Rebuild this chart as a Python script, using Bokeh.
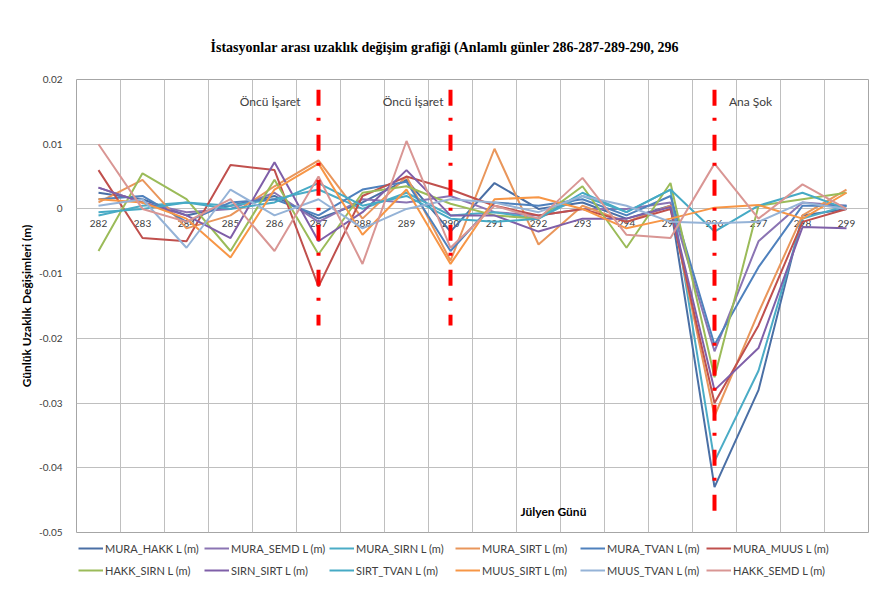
import numpy as np
from bokeh.plotting import figure
from bokeh.models import FixedTicker, Legend, LegendItem, Label, ColumnDataSource, Range1d
from bokeh.layouts import column
from bokeh.core.properties import value
from bokeh.embed import file_html
from bokeh.resources import INLINE

days = [282, 283, 284, 285, 286, 287, 288, 289, 290, 291, 292, 293, 294, 295, 296, 297, 298, 299]
day_labels = [str(d) for d in days]

series_names = ["MURA_HAKK L (m)", "MURA_SEMD L (m)", "MURA_SIRN L (m)", "MURA_SIRT L (m)",
                "MURA_TVAN L (m)", "MURA_MUUS L (m)", "HAKK_SIRN L (m)", "SIRN_SIRT L (m)",
                "SIRT_TVAN L (m)", "MUUS_SIRT L (m)", "MUUS_TVAN L (m)", "HAKK_SEMD L (m)"]

mura_hakk = [0.0025, 0.0015, -0.001, 0.0005, 0.002, -0.0015, 0.001, 0.0045, -0.0035, 0.004, 0.0, 0.001, -0.0015, 0.0005, -0.043, -0.028, -0.001, 0.0]
mura_semd = [0.0033, 0.001, -0.0005, 0.0, 0.0025, -0.002, 0.0015, 0.001, 0.002, -0.0005, -0.001, 0.0, 0.0, 0.001, -0.022, -0.005, 0.001, 0.0005]
mura_sirn = [-0.001, 0.0005, 0.001, 0.0005, 0.0015, 0.003, 0.0, 0.0025, -0.001, -0.0005, -0.0015, 0.002, -0.0005, 0.003, -0.039, -0.025, -0.0015, 0.0005]
mura_sirt = [0.001, 0.0045, -0.003, -0.001, 0.0035, 0.0075, -0.0015, 0.005, -0.008, 0.0093, -0.0055, 0.0005, -0.002, 0.0005, -0.032, -0.016, -0.001, 0.003]
mura_tvan = [0.0015, 0.002, -0.002, 0.001, 0.0015, -0.001, 0.003, 0.0042, -0.0065, 0.001, 0.0005, 0.0015, -0.001, 0.002, -0.021, -0.009, 0.0005, 0.0005]
mura_muus = [0.006, -0.0045, -0.005, 0.0068, 0.006, -0.012, 0.002, 0.005, 0.003, 0.0005, -0.001, 0.0, -0.002, 0.0, -0.030, -0.018, -0.002, 0.0]
hakk_sirn = [-0.0065, 0.0055, 0.0015, -0.0065, 0.0045, -0.007, 0.0025, 0.0035, 0.0008, -0.001, -0.0015, 0.0035, -0.006, 0.004, -0.026, 0.0005, 0.0015, 0.0025]
sirn_sirt = [0.0033, 0.001, -0.001, -0.0045, 0.0072, -0.005, -0.0005, 0.006, -0.001, -0.001, -0.0035, -0.0015, -0.0015, 0.0003, -0.028, -0.0215, -0.0028, -0.003]
sirt_tvan = [-0.0005, 0.0, 0.001, 0.0, 0.001, 0.004, 0.0005, 0.002, -0.0015, -0.002, -0.0015, 0.0025, -0.0005, 0.003, -0.0035, 0.0005, 0.0025, 0.0]
muus_sirt = [0.0015, 0.001, -0.0015, -0.0075, 0.003, 0.007, -0.004, 0.003, -0.0085, 0.0015, 0.0018, 0.0, -0.003, -0.0015, 0.0002, 0.0006, -0.0015, 0.0025]
muus_tvan = [0.0005, 0.0015, -0.006, 0.003, -0.001, 0.0015, -0.003, 0.0, 0.0015, 0.001, -0.0005, 0.002, 0.0005, -0.002, -0.0022, -0.002, 0.001, 0.0]
hakk_semd = [0.010, 0.0, -0.002, 0.0015, -0.0065, 0.005, -0.0085, 0.0105, -0.006, 0.0005, -0.0015, 0.0048, -0.004, -0.0045, 0.007, -0.0015, 0.0038, 0.0]

series_values = [mura_hakk, mura_semd, mura_sirn, mura_sirt, mura_tvan, mura_muus,
                 hakk_sirn, sirn_sirt, sirt_tvan, muus_sirt, muus_tvan, hakk_semd]
colors = ["#4A6FA5", "#8B74B3", "#4BACC6", "#E9965B", "#4F81BD", "#C0504D",
          "#9BBB59", "#7F5FA8", "#46AAC5", "#F79646", "#95B3D7", "#D99694"]

y_ticks = [-0.05, -0.04, -0.03, -0.02, -0.01, 0.0, 0.01, 0.02]
y_tick_labels = ["-0.05", "-0.04", "-0.03", "-0.02", "-0.01", "0", "0.01", "0.02"]

event_days = [287, 290, 296]
event_top = [0.0184, 0.0184, 0.0184]
event_bottom = [-0.018, -0.018, -0.0484]
event_texts = ["Öncü İşaret", "Öncü İşaret", "Ana Şok"]
event_text_x = [285.9, 289.15, 296.82]
event_text_y = [0.0166, 0.0166, 0.0166]

FONT = "Lato"
TXT = "#404040"

p = figure(width=883, height=541, x_range=(281.5, 299.5), y_range=(-0.05, 0.02),
           output_backend="svg", toolbar_location=None,
           min_border_left=76, min_border_right=15, min_border_top=79, min_border_bottom=9)

p.title.text = "İstasyonlar arası uzaklık değişim grafiği (Anlamlı günler 286-287-289-290, 296"
p.title.text_font = "Liberation Serif"
p.title.text_font_style = "bold"
p.title.text_font_size = "14px"
p.title.align = "left"
p.title.offset = 134
p.title.text_color = "#000000"
p.title.standoff = 50

p.outline_line_color = "#A6A6A6"
p.xaxis.visible = False
p.xgrid.ticker = FixedTicker(ticks=[d + 0.5 for d in days[:-1]])
p.xgrid.grid_line_color = "#BFBFBF"
p.ygrid.grid_line_color = "#BFBFBF"

yax = p.yaxis[0]
yax.ticker = FixedTicker(ticks=y_ticks)
yax.major_label_overrides = {t: l for t, l in zip(y_ticks, y_tick_labels)}
yax.major_tick_line_color = None
yax.minor_tick_line_color = None
yax.axis_line_color = None
yax.major_label_text_font = FONT
yax.major_label_text_font_size = "10px"
yax.major_label_text_color = TXT
yax.major_label_standoff = 8
yax.axis_label = "Günlük Uzaklık Değişimleri (m)"
yax.axis_label_text_font = FONT
yax.axis_label_text_font_style = "bold"
yax.axis_label_text_font_size = "12px"
yax.axis_label_text_color = "#000000"
yax.axis_label_standoff = 2

# category labels on the zero line
lab_src = ColumnDataSource(dict(x=days, y=[0.0] * len(days), t=day_labels))
p.text(x="x", y="y", text="t", source=lab_src, text_align="center", text_baseline="top",
       y_offset=11, text_font=value(FONT), text_font_size="10px", text_color=TXT)

for name, vals, c in zip(series_names, series_values, colors):
    p.line(days, vals, line_color=c, line_width=2)

p.segment(x0=event_days, y0=event_top, x1=event_days, y1=event_bottom,
          line_color="#FF0000", line_width=4, line_dash="16 12 3 14")

ev_src = ColumnDataSource(dict(x=event_text_x, y=event_text_y, t=event_texts))
p.text(x="x", y="y", text="t", source=ev_src, text_align="center", text_baseline="middle",
       text_font=value(FONT), text_font_size="12px", text_color=TXT)

p.add_layout(Label(x=292.34, y=-0.0468, text="Jülyen Günü", text_font=FONT,
                   text_font_style="bold", text_font_size="12px", text_color="#000000",
                   text_align="center", text_baseline="middle"))

# legend strip (6 columns of 2 entries)
pl = figure(width=883, height=42, x_range=Range1d(0, 1), y_range=Range1d(0, 1),
            output_backend="svg", toolbar_location=None,
            min_border_left=0, min_border_right=0, min_border_top=0, min_border_bottom=0)
pl.xaxis.visible = False
pl.yaxis.visible = False
pl.xgrid.visible = False
pl.ygrid.visible = False
pl.outline_line_color = None
renderers = []
for name, c in zip(series_names, colors):
    r = pl.line(np.array([np.nan]), np.array([np.nan]), line_color=c, line_width=2)
    renderers.append(r)
col_x = [2, 128, 253, 379, 504, 630]
for i, cx in enumerate(col_x):
    its = [LegendItem(label=series_names[i], renderers=[renderers[i]]),
           LegendItem(label=series_names[i + 6], renderers=[renderers[i + 6]])]
    lg = Legend(items=its, orientation="vertical", location=(cx, 6),
                label_text_font=FONT, label_text_font_size="11px", label_text_color=TXT,
                glyph_width=25, glyph_height=14, label_height=14, label_standoff=2,
                spacing=8, padding=0, margin=0, border_line_color=None,
                background_fill_alpha=0)
    pl.add_layout(lg, "center")

layout = column(p, pl, spacing=0)
open("out.html", "w").write(file_html(layout, INLINE))
